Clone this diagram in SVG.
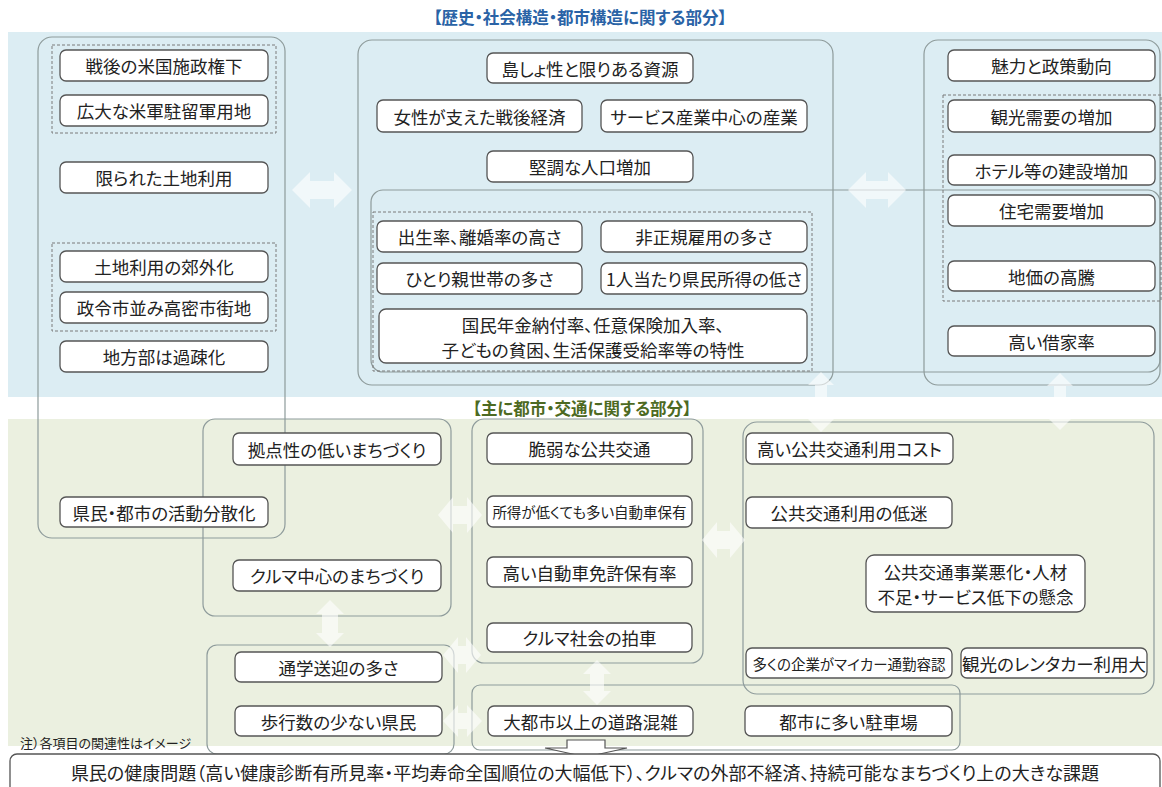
<svg xmlns="http://www.w3.org/2000/svg" width="1162" height="787" viewBox="0 0 1162 787">
<style>
text{font-family:"Noto Sans CJK JP","Noto Sans",sans-serif;font-feature-settings:"palt" 1;fill:#222;}
.t{font-size:17.5px;text-anchor:middle;dominant-baseline:central;}
.s{font-size:14.5px;text-anchor:middle;dominant-baseline:central;}
.n{fill:#fff;stroke:#555;stroke-width:1.3;}
.c{fill:none;stroke:#8e9b9b;stroke-width:1.2;}
.d{fill:none;stroke:#7a7a7a;stroke-width:1;stroke-dasharray:3 2;}
.a{fill:#fff;fill-opacity:0.6;}
.h1{font-size:16.5px;font-weight:bold;text-anchor:middle;dominant-baseline:central;fill:#2a63a6;}
.h2{font-size:16.5px;font-weight:bold;text-anchor:middle;dominant-baseline:central;fill:#4d6a22;}
</style>
<rect x="0" y="0" width="1162" height="787" fill="#fff"/>
<rect x="8" y="32" width="1154" height="365" fill="#dcedf3"/>
<rect x="8" y="419" width="1154" height="327" fill="#ebf0e0"/>
<text class="h1" x="580" y="17">【歴史・社会構造・都市構造に関する部分】</text>
<text class="h2" x="582" y="408">【主に都市・交通に関する部分】</text>

<g id="containers">
<rect class="c" x="38" y="37" width="247" height="501" rx="14"/>
<rect class="d" x="52" y="45" width="224" height="88"/>
<rect class="d" x="52" y="243" width="224" height="88"/>
<rect class="c" x="358" y="40" width="475" height="345" rx="14"/>
<rect class="c" x="371" y="190" width="789" height="182" rx="12"/>
<rect class="d" x="373" y="212" width="439" height="159"/>
<rect class="c" x="924" y="40" width="236" height="345" rx="14"/>
<rect class="d" x="943" y="95" width="218" height="206"/>
<rect class="c" x="203" y="419" width="248" height="197" rx="12"/>
<rect class="c" x="472" y="419" width="231" height="244" rx="12"/>
<rect class="c" x="743" y="422" width="411" height="272" rx="14"/>
<rect class="c" x="207" y="645" width="247" height="109" rx="10"/>
<rect class="c" x="472" y="685" width="488" height="65" rx="8"/>
</g>

<g id="connectors">
<polygon class="a" points="292,190 310,172 310,181 334,181 334,172 352,190 334,208 334,199 310,199 310,208"/>
<polygon class="a" points="848,190 866,172 866,181 888,181 888,172 906,190 888,208 888,199 866,199 866,208"/>
<polygon class="a" points="821,372 834,385 827,385 827,419 834,419 821,432 808,419 815,419 815,385 808,385"/>
<polygon class="a" points="1060,373 1073,386 1066,386 1066,417 1073,417 1060,430 1047,417 1054,417 1054,386 1047,386"/>
<polygon class="a" points="438,515 453,497 453,506 467,506 467,497 482,515 467,533 467,524 453,524 453,533"/>
<polygon class="a" points="702,540 717,522 717,531 730,531 730,522 745,540 730,558 730,549 717,549 717,558"/>
<polygon class="a" points="330,600 344,614 338,614 338,633 344,633 330,647 316,633 322,633 322,614 316,614"/>
<polygon class="a" points="443,655 458,637 458,646 466,646 466,637 481,655 466,673 466,664 458,664 458,673"/>
<polygon class="a" points="443,721 458,705 458,713 467,713 467,705 482,721 467,737 467,729 458,729 458,737"/>
<polygon class="a" points="597,660 611,674 604,674 604,691 611,691 597,705 583,691 590,691 590,674 583,674"/>
<polygon points="567,740 605,740 605,748 627,748 586,757 545,748 567,748" fill="#fff" stroke="#555" stroke-width="1.2"/>
</g>

<g id="n1"><rect class="n" x="60" y="50" width="208" height="31" rx="6"/><text class="t" x="164" y="65.5">戦後の米国施政権下</text></g>
<g id="n2"><rect class="n" x="60" y="95" width="208" height="31" rx="6"/><text class="t" x="164" y="110.5">広大な米軍駐留軍用地</text></g>
<g id="n3"><rect class="n" x="60" y="162" width="208" height="31" rx="6"/><text class="t" x="164" y="177.5">限られた土地利用</text></g>
<g id="n4"><rect class="n" x="60" y="251" width="208" height="31" rx="6"/><text class="t" x="164" y="266.5">土地利用の郊外化</text></g>
<g id="n5"><rect class="n" x="60" y="292" width="208" height="31" rx="6"/><text class="t" x="164" y="307.5">政令市並み高密市街地</text></g>
<g id="n6"><rect class="n" x="60" y="341" width="208" height="31" rx="6"/><text class="t" x="164" y="356.5">地方部は過疎化</text></g>
<g id="n7"><rect class="n" x="60" y="497" width="208" height="30" rx="6"/><text class="t" x="164" y="512">県民・都市の活動分散化</text></g>

<g id="m1"><rect class="n" x="487" y="53" width="206" height="30" rx="6"/><text class="t" x="590" y="68">島しょ性と限りある資源</text></g>
<g id="m2"><rect class="n" x="377" y="100" width="205" height="32" rx="6"/><text class="t" x="479.5" y="116">女性が支えた戦後経済</text></g>
<g id="m3"><rect class="n" x="601" y="100" width="206" height="32" rx="6"/><text class="t" x="704" y="116">サービス産業中心の産業</text></g>
<g id="m4"><rect class="n" x="487" y="151" width="206" height="31" rx="6"/><text class="t" x="590" y="166.5">堅調な人口増加</text></g>
<g id="m5"><rect class="n" x="377" y="221" width="205" height="31" rx="6"/><text class="t" x="479.5" y="236.5">出生率、離婚率の高さ</text></g>
<g id="m6"><rect class="n" x="601" y="221" width="206" height="31" rx="6"/><text class="t" x="704" y="236.5">非正規雇用の多さ</text></g>
<g id="m7"><rect class="n" x="377" y="263" width="205" height="31" rx="6"/><text class="t" x="479.5" y="278.5">ひとり親世帯の多さ</text></g>
<g id="m8"><rect class="n" x="601" y="263" width="206" height="31" rx="6"/><text class="t" x="704" y="278.5">1人当たり県民所得の低さ</text></g>
<g id="m9"><rect class="n" x="379" y="309" width="428" height="54" rx="7"/><text class="t" x="593" y="324">国民年金納付率、任意保険加入率、</text><text class="t" x="593" y="349">子どもの貧困、生活保護受給率等の特性</text></g>

<g id="r1"><rect class="n" x="948" y="50" width="207" height="31" rx="6"/><text class="t" x="1051.5" y="65.5">魅力と政策動向</text></g>
<g id="r2"><rect class="n" x="948" y="100" width="207" height="32" rx="6"/><text class="t" x="1051.5" y="116">観光需要の増加</text></g>
<g id="r3"><rect class="n" x="948" y="155" width="207" height="30" rx="6"/><text class="t" x="1051.5" y="170">ホテル等の建設増加</text></g>
<g id="r4"><rect class="n" x="948" y="195" width="207" height="31" rx="6"/><text class="t" x="1051.5" y="210.5">住宅需要増加</text></g>
<g id="r5"><rect class="n" x="948" y="261" width="207" height="30" rx="6"/><text class="t" x="1051.5" y="276">地価の高騰</text></g>
<g id="r6"><rect class="n" x="948" y="326" width="207" height="30" rx="6"/><text class="t" x="1051.5" y="341">高い借家率</text></g>

<g id="g1"><rect class="n" x="233" y="433" width="208" height="32" rx="6"/><text class="t" x="337" y="449">拠点性の低いまちづくり</text></g>
<g id="g2"><rect class="n" x="233" y="560" width="208" height="31" rx="6"/><text class="t" x="337" y="575.5">クルマ中心のまちづくり</text></g>
<g id="g3"><rect class="n" x="487" y="433" width="205" height="31" rx="6"/><text class="t" x="589.5" y="448.5">脆弱な公共交通</text></g>
<g id="g4"><rect class="n" x="487" y="496" width="205" height="31" rx="6"/><text class="s" x="589.5" y="511.5">所得が低くても多い自動車保有</text></g>
<g id="g5"><rect class="n" x="487" y="557" width="205" height="30" rx="6"/><text class="t" x="589.5" y="572">高い自動車免許保有率</text></g>
<g id="g6"><rect class="n" x="487" y="623" width="205" height="29" rx="6"/><text class="t" x="589.5" y="637.5">クルマ社会の拍車</text></g>
<g id="g7"><rect class="n" x="746" y="433" width="207" height="31" rx="6"/><text class="t" x="849.5" y="448.5">高い公共交通利用コスト</text></g>
<g id="g8"><rect class="n" x="746" y="497" width="206" height="31" rx="6"/><text class="t" x="849" y="512.5">公共交通利用の低迷</text></g>
<g id="g9"><rect class="n" x="866" y="555" width="219" height="57" rx="8"/><text class="t" x="975.5" y="571">公共交通事業悪化・人材</text><text class="t" x="975.5" y="596">不足・サービス低下の懸念</text></g>
<g id="g10"><rect class="n" x="746" y="648" width="206" height="30" rx="6"/><text class="s" x="849" y="663">多くの企業がマイカー通勤容認</text></g>
<g id="g11"><rect class="n" x="961" y="648" width="186" height="30" rx="6"/><text class="t" x="1054" y="663">観光のレンタカー利用大</text></g>
<g id="g12"><rect class="n" x="235" y="652" width="207" height="30" rx="6"/><text class="t" x="338.5" y="667">通学送迎の多さ</text></g>
<g id="g13"><rect class="n" x="235" y="706" width="207" height="30" rx="6"/><text class="t" x="338.5" y="721">歩行数の少ない県民</text></g>
<g id="g14"><rect class="n" x="488" y="706" width="205" height="30" rx="6"/><text class="t" x="590.5" y="721">大都市以上の道路混雑</text></g>
<g id="g15"><rect class="n" x="745" y="706" width="207" height="30" rx="6"/><text class="t" x="848.5" y="721">都市に多い駐車場</text></g>

<g id="note"><text x="20" y="742" font-size="13" dominant-baseline="central">注）各項目の関連性はイメージ</text></g>
<g id="bottom"><rect class="n" x="10" y="754" width="1150" height="45" rx="7"/><text class="t" x="585" y="772" style="font-size:18px">県民の健康問題（高い健康診断有所見率・平均寿命全国順位の大幅低下）、クルマの外部不経済、持続可能なまちづくり上の大きな課題</text></g>
</svg>
